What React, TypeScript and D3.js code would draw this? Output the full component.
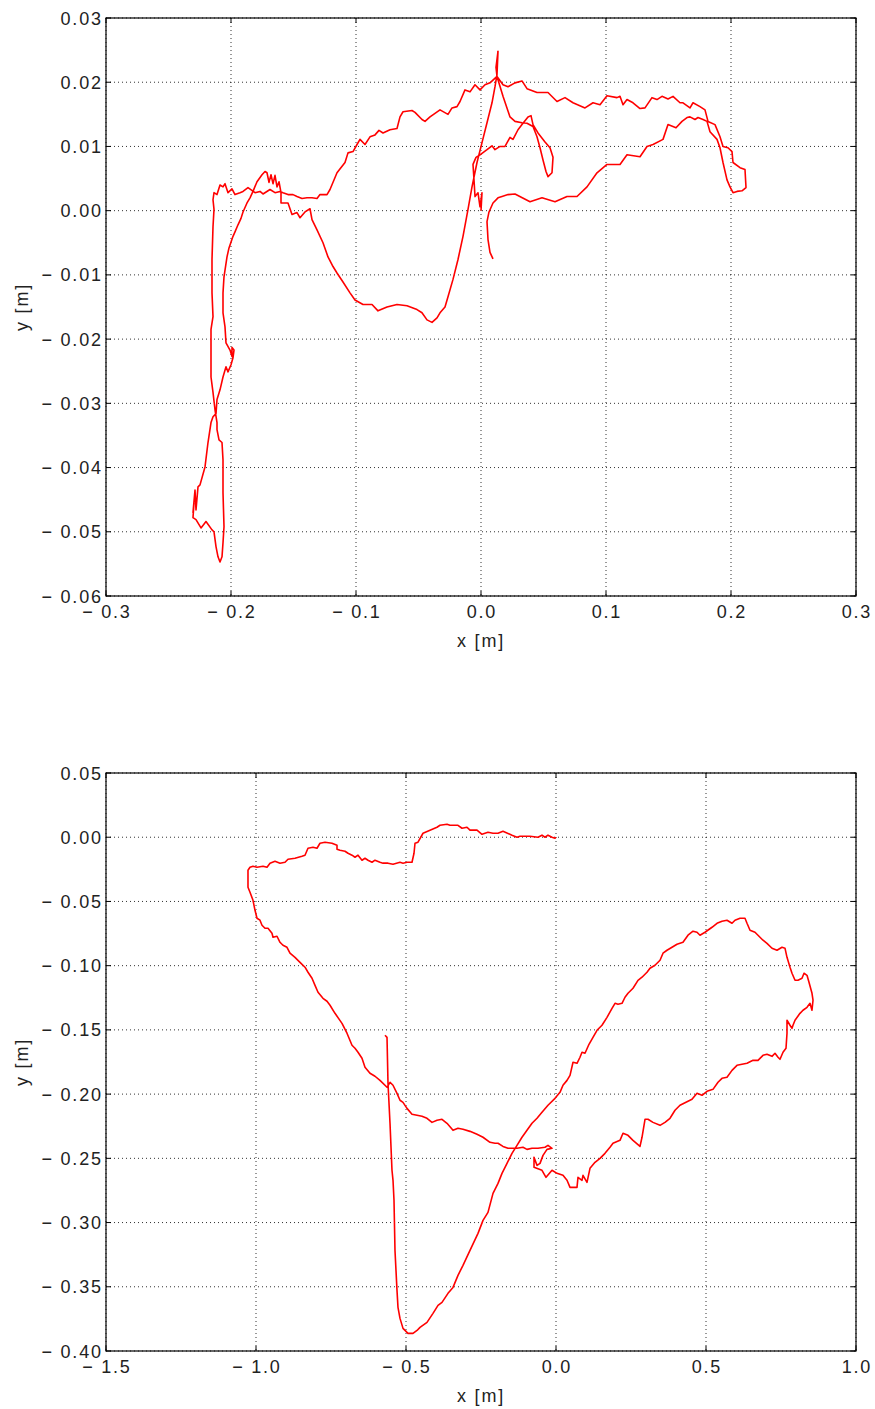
import React from "react";
import * as d3 from "d3";

// ---------- Data (metres) ----------
const topPath: [number, number][] = [
  [0, 0], [0.0008, 0.0028], [-0.0008, 0.0006], [-0.0024, 0.0028], [-0.0048, 0.0022], [-0.0056, 0.0048],
  [-0.0064, 0.0072], [-0.004, 0.0083], [-0.0008, 0.0087], [0.0048, 0.0095], [0.0088, 0.0101], [0.0112, 0.0095],
  [0.0152, 0.01], [0.0192, 0.01], [0.0232, 0.0114], [0.0256, 0.0111], [0.0296, 0.0126], [0.0328, 0.0134],
  [0.0376, 0.0146], [0.04, 0.0148], [0.0416, 0.0134], [0.0456, 0.0121], [0.0512, 0.0107], [0.0552, 0.0098],
  [0.0576, 0.0083], [0.0568, 0.0059], [0.0536, 0.0053], [0.052, 0.0061], [0.0496, 0.0079], [0.0472, 0.0098],
  [0.0448, 0.0115], [0.0416, 0.0131], [0.0368, 0.0136], [0.0328, 0.0137], [0.0272, 0.0139], [0.0232, 0.0146],
  [0.0176, 0.0178], [0.0128, 0.0209],
  [0.0072, 0.0199], [0.0032, 0.0196], [-0.0008, 0.0188], [-0.0048, 0.0196], [-0.0088, 0.0185], [-0.0128, 0.0188],
  [-0.0168, 0.017], [-0.0192, 0.0162], [-0.0232, 0.016], [-0.0264, 0.015], [-0.0328, 0.0157], [-0.0408, 0.0146],
  [-0.0448, 0.0139], [-0.0472, 0.0142], [-0.0528, 0.0153], [-0.0552, 0.0156], [-0.0624, 0.0154], [-0.0648, 0.0146],
  [-0.0672, 0.0128], [-0.0728, 0.0126], [-0.0784, 0.0121], [-0.0816, 0.0125], [-0.0848, 0.0118], [-0.0888, 0.0115],
  [-0.0928, 0.0103], [-0.0968, 0.0111], [-0.0992, 0.0103], [-0.1024, 0.0092], [-0.1064, 0.009], [-0.1088, 0.0075],
  [-0.1152, 0.0059], [-0.1208, 0.0033], [-0.1232, 0.0025], [-0.1288, 0.0025], [-0.1312, 0.0019], [-0.1352, 0.002],
  [-0.1392, 0.002], [-0.1432, 0.0019], [-0.1472, 0.0022], [-0.1504, 0.0025], [-0.1544, 0.0025], [-0.1584, 0.0028],
  [-0.1608, 0.003], [-0.1648, 0.0028], [-0.1688, 0.0033], [-0.1744, 0.0026], [-0.1768, 0.003], [-0.1808, 0.0028],
  [-0.1864, 0.0036], [-0.1904, 0.003], [-0.1928, 0.0028], [-0.1968, 0.0025], [-0.1992, 0.0034], [-0.2024, 0.0028],
  [-0.2048, 0.0042], [-0.2064, 0.0037], [-0.2088, 0.004], [-0.2112, 0.0025], [-0.2136, 0.0028],
  [-0.2144, 0.0017], [-0.2136, 0.0002], [-0.2144, -0.0025], [-0.2152, -0.0076], [-0.2152, -0.0128], [-0.2144, -0.0165],
  [-0.216, -0.0185], [-0.216, -0.0232], [-0.216, -0.0259], [-0.2144, -0.0283], [-0.2128, -0.031], [-0.2112, -0.033],
  [-0.2112, -0.0341], [-0.2096, -0.0357], [-0.2072, -0.0361], [-0.2064, -0.0388], [-0.2064, -0.0439], [-0.2056, -0.0492],
  [-0.2064, -0.0517], [-0.2072, -0.0539], [-0.2088, -0.0547], [-0.2104, -0.0539], [-0.212, -0.0523], [-0.2136, -0.05],
  [-0.2152, -0.0497], [-0.22, -0.0484], [-0.224, -0.0494], [-0.228, -0.0481], [-0.2304, -0.0478], [-0.2296, -0.0455],
  [-0.2304, -0.047], [-0.2288, -0.0435], [-0.228, -0.0466], [-0.2264, -0.043], [-0.2248, -0.0427], [-0.2208, -0.0399],
  [-0.2184, -0.0361], [-0.216, -0.033], [-0.2144, -0.0321], [-0.212, -0.0316], [-0.2112, -0.0294], [-0.2088, -0.0279],
  [-0.2064, -0.0259], [-0.204, -0.0243], [-0.2024, -0.0251], [-0.2, -0.024], [-0.1984, -0.0229], [-0.1976, -0.0217],
  [-0.1992, -0.0213], [-0.1992, -0.0227], [-0.2008, -0.0217], [-0.204, -0.0206], [-0.2048, -0.0181], [-0.2064, -0.0159],
  [-0.2064, -0.0128], [-0.2056, -0.0103], [-0.2032, -0.0072], [-0.2016, -0.0058], [-0.1984, -0.004], [-0.1968, -0.0033],
  [-0.1944, -0.0022], [-0.192, -0.0012], [-0.1904, -0.0002], [-0.1872, 0.0012], [-0.1848, 0.002], [-0.1824, 0.003],
  [-0.1792, 0.0045], [-0.1752, 0.0056], [-0.1728, 0.0061], [-0.1712, 0.0059], [-0.1696, 0.0044], [-0.168, 0.0056],
  [-0.1664, 0.0042], [-0.1648, 0.0055], [-0.1632, 0.0037], [-0.1616, 0.0045], [-0.16, 0.0028], [-0.16, 0.0012],
  [-0.1584, 0.0012], [-0.1544, 0.0012], [-0.1512, -0.0006], [-0.1472, -0.0003], [-0.1448, -0.0011], [-0.1408, -0.0002],
  [-0.1368, 0.0003], [-0.1352, -0.0014], [-0.1312, -0.003], [-0.1264, -0.005], [-0.1224, -0.0072], [-0.1184, -0.0087],
  [-0.1152, -0.0097], [-0.1104, -0.0111], [-0.1048, -0.0128], [-0.1008, -0.0139], [-0.0944, -0.0146], [-0.0872, -0.0146],
  [-0.0824, -0.0156], [-0.0752, -0.015], [-0.0672, -0.0146], [-0.0592, -0.0148], [-0.0512, -0.0154], [-0.0472, -0.0159],
  [-0.0432, -0.017], [-0.0392, -0.0174], [-0.0352, -0.0167], [-0.0328, -0.0159], [-0.0288, -0.015], [-0.0264, -0.0134],
  [-0.0224, -0.0107], [-0.0184, -0.0076], [-0.0144, -0.004], [-0.0104, 0.0002], [-0.0072, 0.0037], [-0.0032, 0.0075],
  [0.0008, 0.0106], [0.0048, 0.0137], [0.0088, 0.0168], [0.0112, 0.0193], [0.0128, 0.0212], [0.0136, 0.0248],
  [0.012, 0.0223], [0.0128, 0.0209],
  [0.0176, 0.0196], [0.0216, 0.0193], [0.0272, 0.0199], [0.0328, 0.0202], [0.0368, 0.019], [0.0448, 0.0184],
  [0.0536, 0.0184], [0.0608, 0.017], [0.0672, 0.0176], [0.0736, 0.0168], [0.0832, 0.016], [0.0896, 0.0168],
  [0.0952, 0.0165], [0.1008, 0.0179], [0.1088, 0.0176], [0.1112, 0.0178], [0.1136, 0.0165], [0.1168, 0.0173],
  [0.1216, 0.0168], [0.1272, 0.0159], [0.1312, 0.016], [0.1368, 0.0176], [0.1408, 0.0173], [0.1448, 0.0178],
  [0.1496, 0.0174], [0.1536, 0.0178], [0.1592, 0.0168], [0.1616, 0.0168], [0.1672, 0.016], [0.1696, 0.0168],
  [0.1752, 0.0162], [0.1792, 0.0157], [0.1816, 0.0139], [0.1872, 0.0134], [0.1912, 0.0115], [0.1936, 0.01],
  [0.1976, 0.0098], [0.2008, 0.0092], [0.2016, 0.0075], [0.2072, 0.0067], [0.2112, 0.0064], [0.212, 0.0036],
  [0.2088, 0.0031], [0.2048, 0.003], [0.2016, 0.0028], [0.1992, 0.0037], [0.1968, 0.0048], [0.1936, 0.0075],
  [0.1912, 0.0098], [0.1888, 0.0111], [0.1832, 0.0123], [0.1808, 0.0139], [0.1776, 0.0142], [0.1736, 0.0145],
  [0.1712, 0.0142], [0.1672, 0.0146], [0.1648, 0.0145], [0.1608, 0.0139], [0.156, 0.0129], [0.1496, 0.0134],
  [0.1456, 0.0111], [0.1376, 0.0103], [0.1328, 0.01], [0.1272, 0.0084], [0.1168, 0.0087], [0.1112, 0.0072],
  [0.1008, 0.0072], [0.0928, 0.0059], [0.0848, 0.0037], [0.0768, 0.0022], [0.0688, 0.0022], [0.0592, 0.0014],
  [0.0488, 0.002], [0.0392, 0.0014], [0.0272, 0.0026], [0.0216, 0.0025], [0.0168, 0.0022], [0.0136, 0.002],
  [0.0096, 0.0012], [0.0064, -0.0002], [0.0048, -0.0017], [0.0056, -0.0045], [0.0072, -0.0065], [0.0096, -0.0075],
];

const bottomPath: [number, number][] = [
  [0, 0], [-0.0033, -0.0008], [-0.0133, 0], [-0.0267, 0.0016], [-0.0367, 0], [-0.0467, 0.0016], [-0.06, 0],
  [-0.0867, 0.0008], [-0.12, 0.0008], [-0.13, 0], [-0.1467, 0.0016], [-0.1767, 0.0047], [-0.1933, 0.0031],
  [-0.21, 0.0031], [-0.2267, 0.0039], [-0.2467, 0.0023], [-0.2633, 0.0055], [-0.2867, 0.0055], [-0.2967, 0.0078],
  [-0.3133, 0.007], [-0.3267, 0.0093], [-0.3533, 0.0093], [-0.3633, 0.0101], [-0.3867, 0.0093], [-0.3967, 0.0078],
  [-0.42, 0.0055], [-0.4433, 0.0031], [-0.46, -0.0039], [-0.47, -0.0047], [-0.4733, -0.0125], [-0.48, -0.0195],
  [-0.4967, -0.0195], [-0.51, -0.0202], [-0.52, -0.0195], [-0.5433, -0.021], [-0.56, -0.0202], [-0.5767, -0.0202],
  [-0.5867, -0.0195], [-0.6033, -0.0179], [-0.6133, -0.0195], [-0.6267, -0.0179], [-0.6367, -0.0164], [-0.6467, -0.0179],
  [-0.66, -0.014], [-0.67, -0.0156], [-0.68, -0.014], [-0.6933, -0.0125], [-0.7033, -0.0109], [-0.72, -0.0101],
  [-0.73, -0.0093], [-0.73, -0.0062], [-0.7467, -0.0047], [-0.77, -0.0039], [-0.7867, -0.0047], [-0.7967, -0.0086],
  [-0.81, -0.0078], [-0.8267, -0.0086], [-0.8367, -0.014], [-0.8467, -0.0148], [-0.87, -0.0164], [-0.8933, -0.0171],
  [-0.9033, -0.0195], [-0.92, -0.0202], [-0.9367, -0.0187], [-0.9533, -0.0202], [-0.9633, -0.0234], [-0.9767, -0.0226],
  [-0.9967, -0.0234], [-1.01, -0.0226], [-1.02, -0.0234], [-1.0267, -0.0257], [-1.0267, -0.0389], [-1.02, -0.0428],
  [-1.01, -0.0491], [-1.0033, -0.0569], [-0.9967, -0.0631], [-0.9867, -0.0646], [-0.98, -0.0685], [-0.97, -0.0709],
  [-0.96, -0.0709], [-0.9467, -0.0748], [-0.9433, -0.0779], [-0.93, -0.0771], [-0.92, -0.0818], [-0.91, -0.0841],
  [-0.8967, -0.0857], [-0.8867, -0.0903], [-0.87, -0.0935], [-0.8533, -0.0974], [-0.8367, -0.1012], [-0.8267, -0.1051],
  [-0.8133, -0.1098], [-0.8033, -0.1153], [-0.7933, -0.1207], [-0.7767, -0.1254], [-0.7633, -0.1277], [-0.7533, -0.1308],
  [-0.7367, -0.1371], [-0.7133, -0.1449], [-0.6967, -0.1526], [-0.68, -0.162], [-0.67, -0.1643], [-0.66, -0.1674],
  [-0.6467, -0.1721], [-0.6367, -0.1791], [-0.62, -0.1838], [-0.6033, -0.1861], [-0.5867, -0.1893], [-0.5633, -0.1947],
  [-0.5533, -0.1908], [-0.5433, -0.1931], [-0.53, -0.1994], [-0.52, -0.2048], [-0.51, -0.2064], [-0.4967, -0.2111],
  [-0.48, -0.2157], [-0.4633, -0.2165], [-0.4467, -0.2173], [-0.43, -0.2188], [-0.4133, -0.222], [-0.3967, -0.2204],
  [-0.38, -0.2196], [-0.3633, -0.2227], [-0.3433, -0.2282], [-0.3267, -0.2266], [-0.31, -0.2274], [-0.2867, -0.229],
  [-0.2633, -0.2313], [-0.2433, -0.2336], [-0.22, -0.2375], [-0.2033, -0.2383], [-0.1933, -0.2383], [-0.1767, -0.2407],
  [-0.16, -0.2422], [-0.13, -0.2422], [-0.11, -0.2414], [-0.0967, -0.243], [-0.08, -0.2422], [-0.06, -0.2422],
  [-0.0367, -0.2414], [-0.0267, -0.2399], [-0.0133, -0.2422], [-0.03, -0.243], [-0.0433, -0.2477], [-0.0533, -0.2539],
  [-0.0633, -0.2555], [-0.0733, -0.2492], [-0.0733, -0.257], [-0.0467, -0.2593], [-0.0333, -0.2648], [-0.0133, -0.2593],
  [0.0033, -0.2617], [0.0233, -0.2632], [0.0367, -0.2671], [0.0467, -0.2726], [0.07, -0.2726], [0.0733, -0.2648],
  [0.0867, -0.2671], [0.09, -0.2632], [0.1033, -0.2687], [0.1133, -0.2578], [0.13, -0.2531], [0.1467, -0.25],
  [0.1633, -0.2461], [0.18, -0.2414], [0.19, -0.2383], [0.2133, -0.236], [0.2233, -0.2305], [0.24, -0.2321],
  [0.2567, -0.236], [0.28, -0.2407], [0.2867, -0.2336], [0.2967, -0.2196], [0.3067, -0.2196], [0.3233, -0.222],
  [0.3467, -0.2243], [0.3633, -0.222], [0.38, -0.2188], [0.3967, -0.2126], [0.4133, -0.2087], [0.4533, -0.204],
  [0.47, -0.1994], [0.4867, -0.2009], [0.5033, -0.1978], [0.5233, -0.1963], [0.54, -0.1908], [0.5533, -0.1877],
  [0.57, -0.1869], [0.5867, -0.1815], [0.6033, -0.1776], [0.62, -0.1768], [0.6367, -0.176], [0.6567, -0.1737],
  [0.6733, -0.1737], [0.69, -0.1698], [0.7033, -0.169], [0.72, -0.1706], [0.73, -0.1682], [0.74, -0.1713],
  [0.7467, -0.1729], [0.7567, -0.1674], [0.7667, -0.1643], [0.77, -0.1526], [0.77, -0.1425], [0.78, -0.1464],
  [0.7867, -0.1488], [0.79, -0.1464], [0.7967, -0.1425], [0.8133, -0.1371], [0.8233, -0.1347], [0.8367, -0.1324],
  [0.8467, -0.1293], [0.8533, -0.1347], [0.8567, -0.1269], [0.8533, -0.1215], [0.8433, -0.1129], [0.8367, -0.1075],
  [0.8267, -0.1059], [0.82, -0.1098], [0.8067, -0.1114], [0.7967, -0.1114], [0.7867, -0.1059], [0.78, -0.1012],
  [0.77, -0.0935], [0.7633, -0.0864], [0.7533, -0.0857], [0.7367, -0.088], [0.72, -0.0864], [0.7033, -0.0826],
  [0.69, -0.0802], [0.6733, -0.0763], [0.6633, -0.074], [0.6467, -0.0724], [0.6367, -0.067], [0.63, -0.0631],
  [0.6133, -0.0631], [0.5967, -0.0646], [0.5867, -0.067], [0.57, -0.0646], [0.5533, -0.0654], [0.5367, -0.067],
  [0.52, -0.0701], [0.4967, -0.074], [0.48, -0.0763], [0.47, -0.074], [0.4567, -0.0732], [0.44, -0.0763],
  [0.4233, -0.0818], [0.4033, -0.0833], [0.3867, -0.0857], [0.37, -0.088], [0.3567, -0.0903], [0.3467, -0.0958],
  [0.33, -0.0997], [0.3133, -0.102], [0.3033, -0.1051], [0.2867, -0.109], [0.2733, -0.1114], [0.2567, -0.1176],
  [0.24, -0.1215], [0.23, -0.1246], [0.22, -0.1293], [0.2067, -0.1301], [0.1967, -0.1293], [0.1867, -0.1332],
  [0.17, -0.1402], [0.1533, -0.1464], [0.1367, -0.1503], [0.1233, -0.1558], [0.11, -0.1612], [0.0967, -0.1682],
  [0.0867, -0.1674], [0.08, -0.1713], [0.07, -0.176], [0.0567, -0.1752], [0.0467, -0.1854], [0.0367, -0.1893],
  [0.0233, -0.1931], [0.0133, -0.1986], [-0.0033, -0.2033], [-0.0267, -0.2087], [-0.0467, -0.2142], [-0.0633, -0.2188],
  [-0.08, -0.2227], [-0.0967, -0.2282], [-0.1133, -0.2336], [-0.13, -0.2399], [-0.1467, -0.2461], [-0.1633, -0.2539],
  [-0.18, -0.2617], [-0.1933, -0.2695], [-0.21, -0.2773], [-0.2267, -0.2921], [-0.2433, -0.2983], [-0.26, -0.3084],
  [-0.2867, -0.3217], [-0.31, -0.3333], [-0.3267, -0.3411], [-0.3433, -0.3505], [-0.36, -0.3551], [-0.38, -0.3621],
  [-0.3933, -0.3645], [-0.41, -0.3707], [-0.43, -0.3777], [-0.4533, -0.3816], [-0.4633, -0.384], [-0.4767, -0.3863],
  [-0.4933, -0.3863], [-0.51, -0.3824], [-0.52, -0.3746], [-0.5267, -0.366], [-0.53, -0.3528], [-0.5367, -0.3217],
  [-0.54, -0.2827], [-0.5433, -0.2671], [-0.5467, -0.2593], [-0.5533, -0.2227], [-0.56, -0.1916], [-0.5633, -0.1558],
  [-0.57, -0.1542],
];

const topXTicks = [-0.3, -0.2, -0.1, 0.0, 0.1, 0.2, 0.3];
const topXLabels = ["\u2212 0.3", "\u2212 0.2", "\u2212 0.1", "0.0", "0.1", "0.2", "0.3"];
const topYTicks = [0.03, 0.02, 0.01, 0.0, -0.01, -0.02, -0.03, -0.04, -0.05, -0.06];
const topYLabels = ["0.03", "0.02", "0.01", "0.00", "\u2212 0.01", "\u2212 0.02", "\u2212 0.03", "\u2212 0.04", "\u2212 0.05", "\u2212 0.06"];

const botXTicks = [-1.5, -1.0, -0.5, 0.0, 0.5, 1.0];
const botXLabels = ["\u2212 1.5", "\u2212 1.0", "\u2212 0.5", "0.0", "0.5", "1.0"];
const botYTicks = [0.05, 0.0, -0.05, -0.1, -0.15, -0.2, -0.25, -0.3, -0.35, -0.4];
const botYLabels = ["0.05", "0.00", "\u2212 0.05", "\u2212 0.10", "\u2212 0.15", "\u2212 0.20", "\u2212 0.25", "\u2212 0.30", "\u2212 0.35", "\u2212 0.40"];

const FONT = "'Liberation Sans', Arial, Helvetica, sans-serif";
const FS = 18;
const LS = 1.8;
const TEXT_COLOR = "#222";

type PanelProps = {
  top: number;
  bottom: number;
  xDomain: [number, number];
  yDomain: [number, number];
  xTicks: number[];
  xLabels: string[];
  yTicks: number[];
  yLabels: string[];
  data: [number, number][];
};

function Panel({ top, bottom, xDomain, yDomain, xTicks, xLabels, yTicks, yLabels, data }: PanelProps) {
  const left = 106;
  const right = 856;
  const x = d3.scaleLinear().domain(xDomain).range([left, right]);
  const y = d3.scaleLinear().domain(yDomain).range([bottom, top]);
  const line = d3.line<[number, number]>().x((d) => x(d[0])).y((d) => y(d[1]));
  const tl = 5;
  const clipId = `clip-${top}`;
  return (
    <g>
      <defs>
        <clipPath id={clipId}>
          <rect x={left} y={top} width={right - left} height={bottom - top} />
        </clipPath>
      </defs>
      {xTicks.map((t, i) => (
        <line key={`gx${i}`} x1={x(t)} x2={x(t)} y1={top} y2={bottom} stroke="#000" strokeWidth={1} strokeDasharray="1,3" opacity={0.8} />
      ))}
      {yTicks.map((t, i) => (
        <line key={`gy${i}`} x1={left} x2={right} y1={y(t)} y2={y(t)} stroke="#000" strokeWidth={1} strokeDasharray="1,3" opacity={0.8} />
      ))}
      <path d={line(data) || ""} fill="none" stroke="#ff0000" strokeWidth={1.6} strokeLinejoin="round" clipPath={`url(#${clipId})`} />
      {xTicks.map((t, i) => (
        <g key={`tx${i}`}>
          <line x1={x(t)} x2={x(t)} y1={bottom} y2={bottom - tl} stroke="#000" />
          <line x1={x(t)} x2={x(t)} y1={top} y2={top + tl} stroke="#000" />
          <text x={x(t) + LS / 2} y={bottom + 22} textAnchor="middle" fontFamily={FONT} fontSize={FS} letterSpacing={LS} fill={TEXT_COLOR}>
            {xLabels[i]}
          </text>
        </g>
      ))}
      {yTicks.map((t, i) => (
        <g key={`ty${i}`}>
          <line x1={left} x2={left + tl} y1={y(t)} y2={y(t)} stroke="#000" />
          <line x1={right} x2={right - tl} y1={y(t)} y2={y(t)} stroke="#000" />
          <text x={left - 5 + LS} y={y(t) + 6.5} textAnchor="end" fontFamily={FONT} fontSize={FS} letterSpacing={LS} fill={TEXT_COLOR}>
            {yLabels[i]}
          </text>
        </g>
      ))}
      <rect x={left} y={top} width={right - left} height={bottom - top} fill="none" stroke="#000" strokeWidth={1.2} />
      <text x={(left + right) / 2} y={bottom + 51} textAnchor="middle" fontFamily={FONT} fontSize={FS} letterSpacing={LS} fill={TEXT_COLOR}>
        x [m]
      </text>
      <text
        transform={`translate(28, ${(top + bottom) / 2}) rotate(-90)`}
        textAnchor="middle"
        fontFamily={FONT}
        fontSize={FS}
        letterSpacing={LS}
        fill={TEXT_COLOR}
      >
        y [m]
      </text>
    </g>
  );
}

export default function App() {
  return (
    <svg width={875} height={1409} style={{ position: "absolute", left: 0, top: 0, background: "#fff" }}>
      <rect x={0} y={0} width={875} height={1409} fill="#fff" />
      <Panel top={18} bottom={596} xDomain={[-0.3, 0.3]} yDomain={[-0.06, 0.03]} xTicks={topXTicks} xLabels={topXLabels} yTicks={topYTicks} yLabels={topYLabels} data={topPath} />
      <Panel top={773} bottom={1351} xDomain={[-1.5, 1.0]} yDomain={[-0.4, 0.05]} xTicks={botXTicks} xLabels={botXLabels} yTicks={botYTicks} yLabels={botYLabels} data={bottomPath} />
    </svg>
  );
}
